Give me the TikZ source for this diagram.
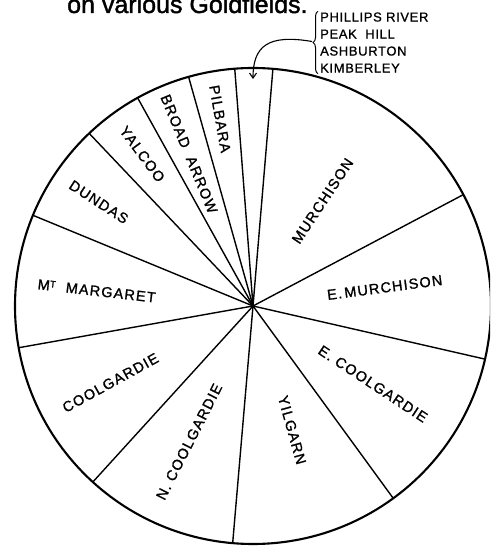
\documentclass[tikz,border=0pt]{standalone}
\usepackage{fontspec}
\setmainfont{Liberation Sans}
\newfontfamily\labfont[LetterSpace=8,FakeBold=1.2]{Liberation Sans}
\newfontfamily\legfont[LetterSpace=5,FakeBold=1]{Liberation Sans}
\newfontfamily\ttlfont[FakeBold=1.5]{Liberation Sans}
\usetikzlibrary{arrows.meta,decorations.pathreplacing,calc}
\begin{document}
\begin{tikzpicture}[x=1pt,y=1pt,
  rim/.style={line width=2.1pt},
  spoke/.style={line width=1.4pt},
  lab/.style={font=\labfont\fontsize{14.5}{15}\selectfont, inner sep=0pt},
  leg/.style={font=\legfont\fontsize{13}{17}\selectfont, inner sep=0pt, align=left},
  ttl/.style={font=\ttlfont\fontsize{25}{26}\selectfont, inner sep=0pt},
  pointer/.style={line width=1.1pt, -{Straight Barb[length=5pt,width=7pt]}},
  bracestyle/.style={line width=1pt, decorate, decoration={brace, amplitude=5pt}}
]
\useasboundingbox (0,0) rectangle (490,546);
\clip (0,0) rectangle (490,546);
\coordinate (c) at (253,240);
% circle
\draw[rim] (c) circle (238);
% spokes
\foreach \a in {85.2,94.4,105.7,119.0,133.5,157.6,190.1,227.7,265.1,306.1,347.1,27.9}
  \draw[spoke] (c) -- ++(\a:238);
% labels
\node[lab, rotate=56.5] (murch) at ($(c)+(56.5:126)$) {MURCHISON};
\node[lab, rotate=7.5] (emurch) at ($(c)+(8:133)$) {E.\,MURCHISON};
\node[lab, rotate=-33.4] (ecool) at ($(c)+(-33:143)$) {E.\ COOLGARDIE};
\node[lab, rotate=-74.4] (yilg) at ($(c)+(-72.5:130)$) {YILGARN};
\node[lab, rotate=63] (ncool) at ($(c)+(244.8:150)$) {N.\ COOLGARDIE};
\node[lab, rotate=28.9] (cool) at ($(c)+(208.3:162)$) {COOLGARDIE};
\node[lab, rotate=-6.5] (mtm) at ($(c)+(174.5:157)$) {M\raisebox{0.45ex}{\fontsize{9.5}{9.5}\selectfont T}\ \ MARGARET};
\node[lab, rotate=-33] (dundas) at ($(c)+(146:186)$) {DUNDAS};
\node[lab, rotate=-53.6] (yalcoo) at ($(c)+(126.1:188)$) {YALCOO};
\node[lab, rotate=-67.6] (broad) at ($(c)+(112.8:165)$) {BROAD\ \ ARROW};
\node[lab, rotate=-80] (pilb) at ($(c)+(100:190)$) {PILBARA};
% legend
\node[leg, anchor=west] (legend) at (320,503.5) {PHILLIPS RIVER\\PEAK\ \ HILL\\ASHBURTON\\KIMBERLEY};
\draw[bracestyle] ($(legend.south west)+(-2,-1)$) -- ($(legend.north west)+(-2,1)$);
\coordinate (bracetip) at ($(legend.west)+(-8,1)$);
\coordinate (slicetip) at (253,467);
\draw[pointer] (bracetip) .. controls (268,512) and (253,500) .. (slicetip);
% title
\node[ttl, anchor=base west] (title) at (67,533) {on various Goldfields.};
\end{tikzpicture}
\end{document}
